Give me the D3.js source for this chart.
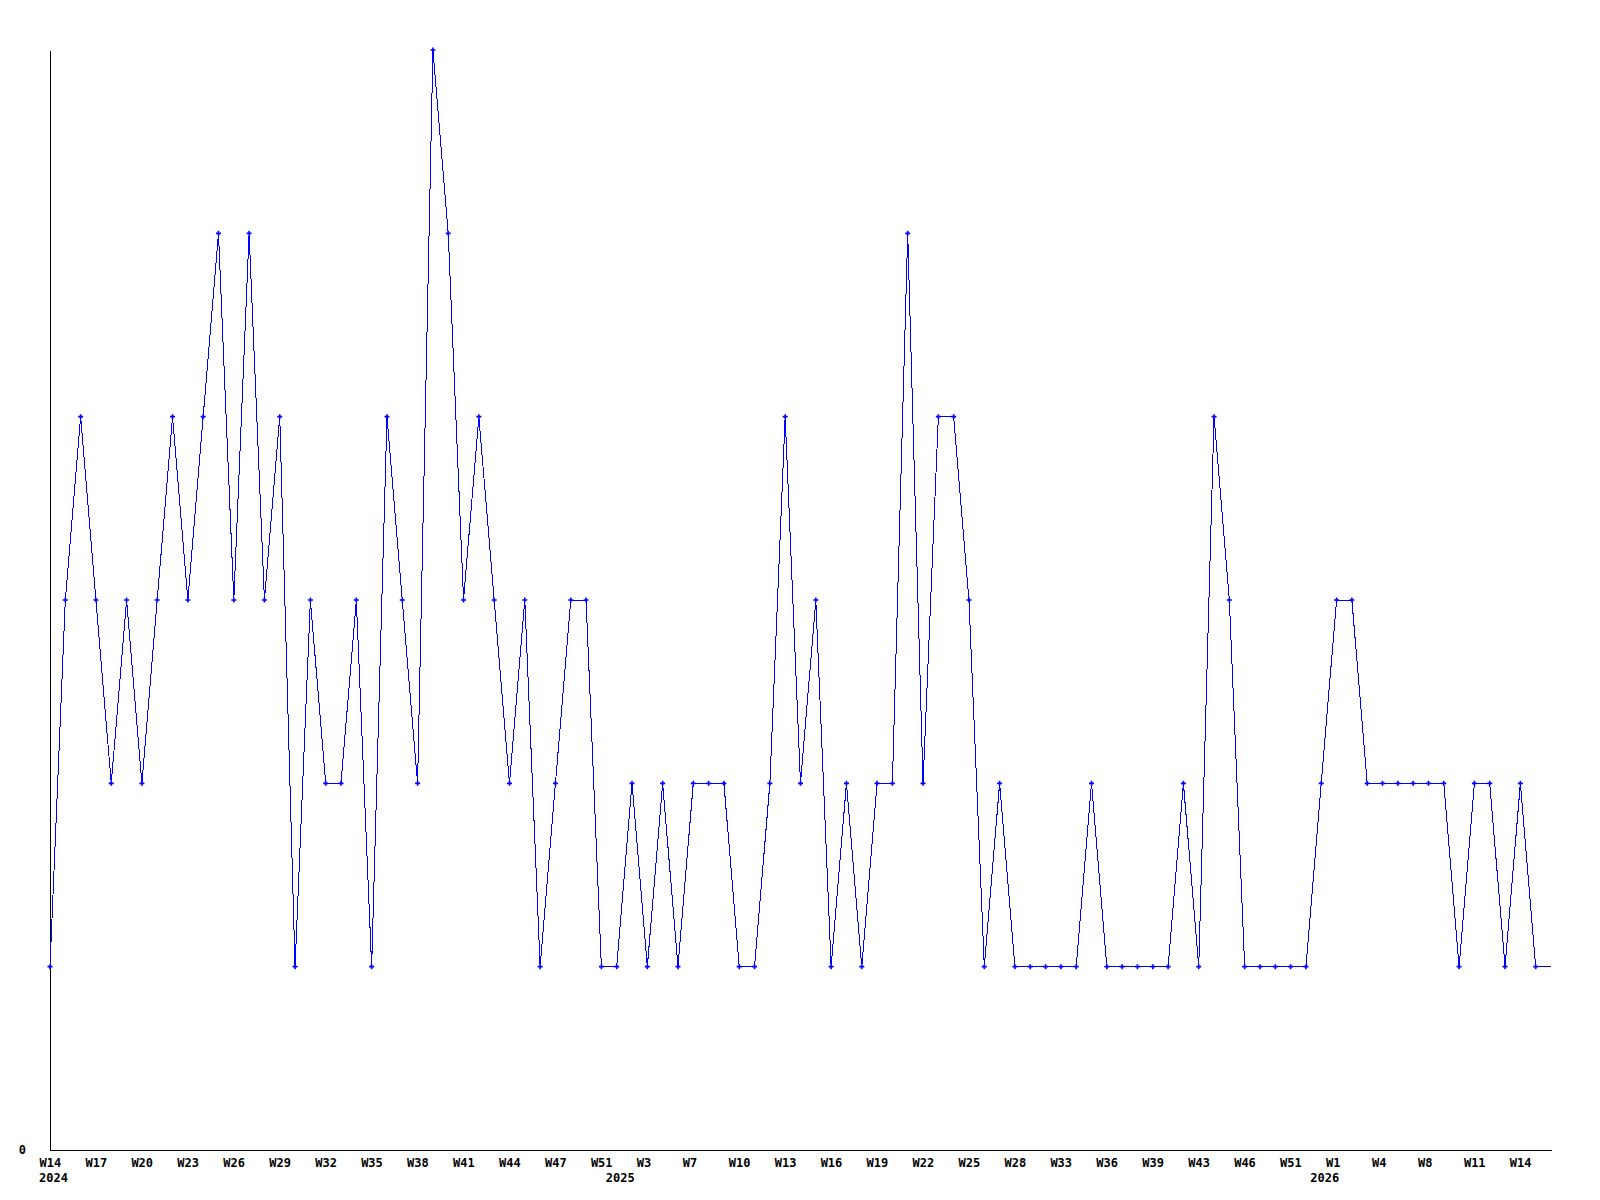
<!DOCTYPE html>
<html>
<head>
<meta charset="utf-8">
<script src="https://cdn.jsdelivr.net/npm/d3@7"></script>
<style>
  html, body { margin: 0; padding: 0; background: #ffffff; }
  svg { display: block; }
  text { font-family: "DejaVu Sans Mono", "Liberation Mono", monospace; font-weight: bold; font-size: 12px; fill: #000; }
</style>
</head>
<body>
<svg id="chart" width="1600" height="1200"></svg>
<script>
// Weekly values, one per data row (W14 2024 .. W15 2026)
const values = [
  1, 3, 4, 3, 2, 3, 2, 3, 4, 3,
  4, 5, 3, 5, 3, 4, 1, 3, 2, 2,
  3, 1, 4, 3, 2, 6, 5, 3, 4, 3,
  2, 3, 1, 2, 3, 3, 1, 1, 2, 1,
  2, 1, 2, 2, 2, 1, 1, 2, 4, 2,
  3, 1, 2, 1, 2, 2, 5, 2, 4, 4,
  3, 1, 2, 1, 1, 1, 1, 1, 2, 1,
  1, 1, 1, 1, 2, 1, 4, 3, 1, 1,
  1, 1, 1, 2, 3, 3, 2, 2, 2, 2,
  2, 2, 1, 2, 2, 1, 2, 1, 1
];

// Week labels shown on every third data row
const tickLabels = [
  "W14", "W17", "W20", "W23", "W26", "W29", "W32", "W35", "W38", "W41", "W44",
  "W47", "W51", "W3", "W7", "W10", "W13", "W16", "W19", "W22", "W25", "W28",
  "W33", "W36", "W39", "W43", "W46", "W51", "W1", "W4", "W8", "W11", "W14"
];
const tickEvery = 3;

// Year labels and the data row where each year begins
const yearLabels = ["2024", "2025", "2026"];
const yearStartRow = [0, 37, 83];

// Y axis tick labels
const yTicks = [0];
const yMax = 6;

const svg = d3.select("#chart");

const x = d3.scaleLinear().domain([0, values.length - 1]).range([50, 1551]);
const y = d3.scaleLinear().domain([0, yMax]).range([1150, 50]);

// Bottom axis
const tickRows = tickLabels.map((_, k) => k * tickEvery);
const xAxis = d3.axisBottom(x)
  .tickValues(tickRows)
  .tickFormat((d, k) => tickLabels[k])
  .tickSize(0)
  .tickSizeOuter(0);
const gx = svg.append("g").attr("transform", "translate(0,1150)").call(xAxis);
gx.select(".domain").attr("stroke", "#000").attr("shape-rendering", "crispEdges");
gx.selectAll(".tick text")
  .attr("text-anchor", "start")
  .attr("x", -11)
  .attr("y", 17)
  .attr("dy", 0)
  .attr("fill", "#000")
  .style("font-family", "DejaVu Sans Mono")
  .style("font-weight", "bold")
  .style("font-size", "12px");

// Year labels
svg.append("g").selectAll("text")
  .data(yearLabels)
  .join("text")
  .attr("x", (d, k) => x(yearStartRow[k]) - 11)
  .attr("y", 1182)
  .attr("text-anchor", "start")
  .text(d => d);

// Left axis
const yAxis = d3.axisLeft(y)
  .tickValues(yTicks)
  .tickFormat(d3.format("d"))
  .tickSize(0)
  .tickPadding(24)
  .tickSizeOuter(0);
const gy = svg.append("g").attr("transform", "translate(50,0)").call(yAxis);
gy.select(".domain").attr("stroke", "#000").attr("shape-rendering", "crispEdges");
gy.selectAll(".tick text")
  .attr("fill", "#000")
  .style("font-family", "DejaVu Sans Mono")
  .style("font-weight", "bold")
  .style("font-size", "12px");

// Line
const line = d3.line()
  .x((d, i) => x(i))
  .y(d => y(d));

svg.append("path")
  .datum(values)
  .attr("fill", "none")
  .attr("stroke", "#0000ff")
  .attr("stroke-width", 1)
  .attr("shape-rendering", "crispEdges")
  .attr("d", line);

// Markers on every completed row (the last, current row has none)
svg.append("g")
  .selectAll("path")
  .data(values.slice(0, -1))
  .join("path")
  .attr("transform", (d, i) => `translate(${x(i)},${y(d)})`)
  .attr("d", "M-2.5,0H2.5M0,-2.5V2.5")
  .attr("stroke", "#0000ff")
  .attr("stroke-width", 1.6)
  .attr("fill", "none");
</script>
</body>
</html>
